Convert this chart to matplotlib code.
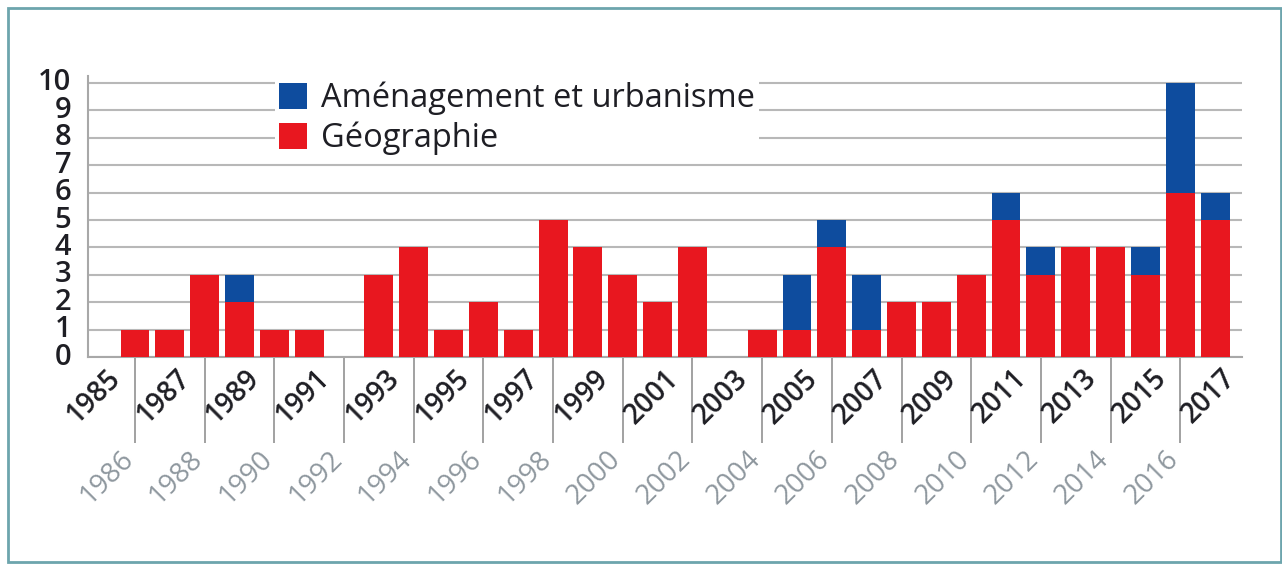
import matplotlib
matplotlib.use('Agg')
import matplotlib.pyplot as plt
import matplotlib.transforms as mtransforms
from matplotlib.patches import Rectangle, Patch

plt.rcParams['font.family'] = ['Open Sans', 'DejaVu Sans']

# ── données ────────────────────────────────────
years = list(range(1985, 2018))
geographie = [0, 1, 1, 3, 2, 1, 1, 0, 3, 4, 1, 2, 1, 5, 4, 3, 2,
              4, 0, 1, 1, 4, 1, 2, 2, 3, 5, 3, 4, 4, 3, 6, 5]
amenagement = [0, 0, 0, 0, 1, 0, 0, 0, 0, 0, 0, 0, 0, 0, 0, 0, 0,
               0, 0, 0, 2, 1, 2, 0, 0, 0, 1, 1, 0, 0, 1, 4, 1]
labels = ['Aménagement et urbanisme', 'Géographie']

RED = '#e8171f'
BLUE = '#0e4c9e'
GRID = '#b8b8b8'
DARK = '#1e1e24'
GREYTXT = '#8e979e'

fig = plt.figure(figsize=(12.82, 5.64), dpi=100)
ax = fig.add_axes([0.0686, 0.367, 0.9004, 0.498])

ax.bar(years, geographie, width=0.83, color=RED, zorder=3)
ax.bar(years, amenagement, width=0.83, bottom=geographie, color=BLUE, zorder=3)

ax.set_xlim(1984.65, 2017.78)
ax.set_ylim(0, 10.25)
ax.set_yticks(range(0, 11))
ax.yaxis.grid(True, color=GRID, lw=1.5, zorder=0)
ax.set_axisbelow(True)

for s in ['top', 'right']:
    ax.spines[s].set_visible(False)
for s in ['left', 'bottom']:
    ax.spines[s].set_color('#a8a8a8')
    ax.spines[s].set_linewidth(1.5)

ax.tick_params(axis='y', length=0, pad=12, labelsize=21, labelcolor=DARK)
for lab in ax.get_yticklabels():
    lab.set_fontweight('semibold')
    lab.set_va('center')

# ticks longs aux années paires
even_years = [y for y in years if y % 2 == 0]
ax.set_xticks(even_years)
ax.set_xticklabels([])
ax.tick_params(axis='x', length=62, width=1.3, color='#9a9a9a', direction='out')

xtr = ax.get_xaxis_transform()
odd_tr = mtransforms.offset_copy(xtr, fig=fig, x=-6, y=-7, units='dots')
even_tr = mtransforms.offset_copy(xtr, fig=fig, x=4, y=-88, units='dots')
for y in years:
    if y % 2 == 1:
        ax.text(y, 0, str(y), transform=odd_tr, rotation=45, ha='center',
                va='top', fontsize=20, color=DARK, fontweight='semibold')
    else:
        ax.text(y, 0, str(y), transform=even_tr, rotation=45, ha='right',
                va='top', fontsize=20, color=GREYTXT)

handles = [Patch(facecolor=BLUE, edgecolor='none'),
           Patch(facecolor=RED, edgecolor='none')]
leg = ax.legend(handles, labels, loc='upper left', bbox_to_anchor=(0.162, 0.995),
                fontsize=23.5, frameon=True, fancybox=False, framealpha=1,
                edgecolor='none', facecolor='white', handlelength=0.85,
                handleheight=0.85, handletextpad=0.45, labelspacing=0.2,
                borderpad=0.12, borderaxespad=0)
for t in leg.get_texts():
    t.set_color(DARK)
leg.set_zorder(5)

# cadre
fig.patches.append(Rectangle((8 / 1282, 2 / 564), 1 - 9 / 1282, 1 - 10 / 564,
                             transform=fig.transFigure, fill=False,
                             edgecolor='#6da5ad', lw=2))

plt.savefig('out.png', dpi=100, facecolor='white')
